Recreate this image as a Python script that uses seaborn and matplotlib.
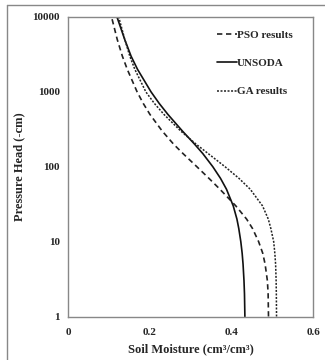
import matplotlib
matplotlib.use("Agg")
import matplotlib.pyplot as plt
import seaborn as sns
import pandas as pd
from matplotlib.lines import Line2D

# Pressure head values (-cm) at which soil moisture was read
head = [1, 2, 3, 5, 7, 10, 15, 20, 30, 50, 70, 100, 150, 200, 300, 500, 700,
        1000, 2000, 3000, 5000, 10000]

# Soil moisture (cm3/cm3) for each series
pso = [0.4903, 0.4894, 0.4876, 0.4820, 0.4762, 0.4661, 0.4511, 0.4367, 0.4103,
       0.3715, 0.3445, 0.315, 0.281, 0.258, 0.230, 0.200, 0.1837, 0.1686,
       0.1445, 0.1325, 0.1200, 0.1060]
unsoda = [0.4325, 0.4315, 0.4303, 0.4280, 0.4258, 0.4225, 0.4175, 0.4130, 0.4040,
          0.3875, 0.3728, 0.354, 0.3294, 0.3094, 0.2795, 0.2440, 0.2228, 0.2027,
          0.1696, 0.1538, 0.1383, 0.1193]
ga = [0.510, 0.5095, 0.5090, 0.5077, 0.5058, 0.503, 0.496, 0.4898, 0.4757,
      0.4457, 0.418, 0.384, 0.3426, 0.3132, 0.2754, 0.2343, 0.211, 0.190,
      0.163, 0.1507, 0.1385, 0.1235]

series_names = ["PSO results", "UNSODA", "GA results"]
x_ticks = [0, 0.2, 0.4, 0.6]
x_tick_labels = ["0", "0.2", "0.4", "0.6"]
y_ticks = [1, 10, 100, 1000, 10000]
y_tick_labels = ["1", "10", "100", "1000", "10000"]

sns.set_style("white")
plt.rcParams['font.family'] = ['Liberation Serif', 'DejaVu Serif']
plt.rcParams['font.weight'] = 'bold'

fig = plt.figure(figsize=(3.25, 3.6), dpi=100)
ax = fig.add_axes([0.210, 0.1208, 0.754, 0.832])

styles = {
    "PSO results": dict(linestyle=(0, (3.2, 2.2)), linewidth=1.2, color="#222222"),
    "UNSODA": dict(linestyle="-", linewidth=1.2, color="#111111"),
    "GA results": dict(linestyle=(0, (1.3, 1.0)), linewidth=1.1, color="#222222"),
}
for name, vals in zip(series_names, [pso, unsoda, ga]):
    df = pd.DataFrame({"theta": vals, "h": head})
    sns.lineplot(data=df, x="theta", y="h", ax=ax, sort=False, estimator=None,
                 label=name, **styles[name])

ax.set_yscale("log")
ax.set_xlim(0, 0.6)
ax.set_ylim(1, 10000)
ax.set_xticks(x_ticks)
ax.set_xticklabels(x_tick_labels)
ax.set_yticks(y_ticks)
ax.set_yticklabels(y_tick_labels)
ax.minorticks_off()
ax.tick_params(axis="both", which="major", direction="out", length=4, width=1,
               color="#888888", labelsize=8, pad=2)
ax.tick_params(axis="x", pad=4)
for lab in ax.get_xticklabels() + ax.get_yticklabels():
    lab.set_fontweight("bold")
for sp in ax.spines.values():
    sp.set_color("#888888")
    sp.set_linewidth(1)

ax.set_xlabel("Soil Moisture (cm³/cm³)", fontsize=9, fontweight="bold", labelpad=5)
ax.set_ylabel("Pressure Head (-cm)", fontsize=9, fontweight="bold", labelpad=5)

leg = ax.legend(loc="upper right", bbox_to_anchor=(0.935, 0.97), frameon=False,
                fontsize=8, handlelength=1.8, handletextpad=0.05,
                labelspacing=1.65, borderaxespad=0)
for t in leg.get_texts():
    t.set_fontweight("bold")

# outer picture border (left and top)
fig.add_artist(Line2D([7 / 325, 7 / 325], [0, 1 - 5 / 360], transform=fig.transFigure,
                      color="#888888", linewidth=1))
fig.add_artist(Line2D([7 / 325, 1], [1 - 5 / 360, 1 - 5 / 360], transform=fig.transFigure,
                      color="#888888", linewidth=1))

fig.savefig("out.png", dpi=100)
